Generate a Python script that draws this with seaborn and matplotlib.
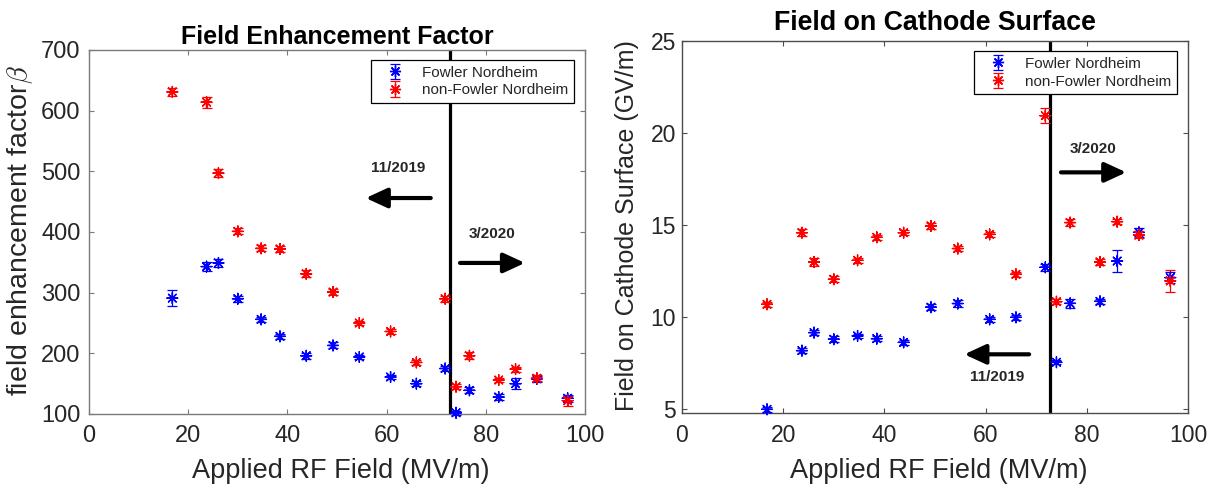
import matplotlib
matplotlib.use("Agg")
import matplotlib.pyplot as plt
from matplotlib.lines import Line2D
from matplotlib.legend_handler import HandlerTuple
import numpy as np
import pandas as pd
import seaborn as sns

# ---------------- data ----------------
applied_field = [16.8, 23.7, 26.1, 30.0, 34.7, 38.5, 43.8, 49.2, 54.5,
                 60.8, 66.0, 71.8, 74.0, 76.7, 82.6, 86.0, 90.3, 96.5]

beta_fn = [291, 343, 349, 290, 256, 228, 196, 213, 194,
           161, 150, 175, 102, 139, 128, 150, 158, 126]
beta_fn_err = [13, 7, 6, 5, 4, 4, 5, 5, 4, 4, 4, 4, 3, 5, 5, 9, 5, 6]
beta_nfn = [631, 614, 497, 401, 373, 372, 331, 301, 250,
            236, 185, 290, 145, 196, 156, 174, 159, 122]
beta_nfn_err = [7, 9, 7, 5, 5, 5, 6, 5, 4, 4, 4, 5, 4, 6, 4, 4, 5, 8]

cath_fn = [4.98, 8.17, 9.15, 8.79, 8.97, 8.82, 8.62, 10.53, 10.73,
           9.87, 9.98, 12.70, 7.54, 10.74, 10.85, 13.04, 14.60, 12.14]
cath_fn_err = [0.15, 0.15, 0.15, 0.15, 0.12, 0.12, 0.15, 0.15, 0.2,
               0.15, 0.15, 0.2, 0.12, 0.25, 0.15, 0.6, 0.25, 0.3]
cath_nfn = [10.69, 14.58, 12.99, 12.05, 13.08, 14.33, 14.58, 14.95, 13.72,
            14.49, 12.32, 20.94, 10.83, 15.13, 12.99, 15.18, 14.45, 11.96]
cath_nfn_err = [0.15, 0.2, 0.2, 0.15, 0.15, 0.15, 0.15, 0.15, 0.15,
                0.15, 0.15, 0.4, 0.15, 0.2, 0.15, 0.15, 0.15, 0.6]

series_names = ["Fowler Nordheim", "non-Fowler Nordheim"]
series_colors = {"Fowler Nordheim": "#0000ff", "non-Fowler Nordheim": "#ff0000"}

divider_x = 72.8
left_xticks = [0, 20, 40, 60, 80, 100]
left_yticks = [100, 200, 300, 400, 500, 600, 700]
right_yticks = [5, 10, 15, 20, 25]

# ---------------- style ----------------
sns.set_style("white")
plt.rcParams["font.family"] = ["Liberation Sans", "DejaVu Sans"]
plt.rcParams["mathtext.fontset"] = "cm"

ASTER = (8, 2, 0)


def make_df(y_fn, e_fn, y_nfn, e_nfn):
    return pd.DataFrame({
        "field": applied_field + applied_field,
        "value": y_fn + y_nfn,
        "err": e_fn + e_nfn,
        "series": [series_names[0]] * len(y_fn) + [series_names[1]] * len(y_nfn),
    })


def draw_panel(ax, df, spine_color, tick_fs):
    handles = []
    for name in series_names:
        sub = df[df["series"] == name]
        cont = ax.errorbar(sub["field"], sub["value"], yerr=sub["err"], fmt="none",
                           ecolor=series_colors[name], elinewidth=0.9,
                           capsize=3.6, capthick=0.9, clip_on=False, zorder=3)
        mk = Line2D([], [], marker=ASTER, ls="none", color=series_colors[name],
                    markersize=8, markeredgewidth=1.0)
        handles.append((cont, mk))
    sns.scatterplot(data=df, x="field", y="value", hue="series",
                    palette=series_colors, hue_order=series_names,
                    marker=ASTER, s=60, linewidth=1.0, ax=ax, legend=False,
                    clip_on=False, zorder=4)
    ax.axvline(divider_x, color="black", lw=2.3, zorder=2)
    ax.set_xlim(0, 100)
    ax.set_xticks(left_xticks)
    for sp in ax.spines.values():
        sp.set_visible(True)
        sp.set_color(spine_color)
        sp.set_linewidth(1.0)
    ax.tick_params(direction="in", length=3.5, width=0.8, colors=spine_color,
                   labelcolor="#262626", labelsize=tick_fs,
                   top=True, right=True, bottom=True, left=True)
    leg = ax.legend(handles, series_names, loc="upper right",
                    bbox_to_anchor=(0.978, 0.972), fontsize=11,
                    handler_map={tuple: HandlerTuple(ndivide=1, pad=0)},
                    frameon=True, fancybox=False, framealpha=1,
                    edgecolor="black", borderpad=0.35, labelspacing=0.25,
                    handlelength=2.4, handletextpad=0.6, borderaxespad=0)
    leg.get_frame().set_linewidth(0.9)
    return leg


def arrow(ax, x0, x1, y):
    ax.annotate("", xy=(x1, y), xytext=(x0, y),
                arrowprops=dict(arrowstyle="-|>,head_length=1.3,head_width=0.6",
                                mutation_scale=10, lw=3, color="black",
                                shrinkA=0, shrinkB=0))


fig = plt.figure(figsize=(12.22, 4.91), dpi=100)
ax1 = fig.add_axes([89 / 1222, 1 - 414 / 491, 496 / 1222, 364 / 491])
ax2 = fig.add_axes([682 / 1222, 1 - 413 / 491, 506 / 1222, 372 / 491])

# ---- left panel ----
df1 = make_df(beta_fn, beta_fn_err, beta_nfn, beta_nfn_err)
draw_panel(ax1, df1, "#7a7a7a", 17)
ax1.set_ylim(100, 700)
ax1.set_yticks(left_yticks)
ax1.tick_params(axis="x", pad=8)
ax1.tick_params(axis="y", pad=6)
ax1.set_title("Field Enhancement Factor", fontsize=18, fontweight="bold", pad=4.5, color="black")
ax1.set_xlabel("Applied RF Field (MV/m)", fontsize=19.5, color="#262626")
ax1.set_ylabel(r"field enhancement factor$\beta$", fontsize=20.5, color="#262626", va="center")
ax1.xaxis.set_label_coords(0.507, -0.121)
ax1.yaxis.set_label_coords(-0.138, 0.505)
ax1.text(62.3, 505, "11/2019", fontsize=11, fontweight="bold", ha="center", va="center")
arrow(ax1, 68.9, 55.8, 456)
ax1.text(81.3, 396, "3/2020", fontsize=11, fontweight="bold", ha="center", va="center")
arrow(ax1, 74.8, 87.9, 349)

# ---- right panel ----
df2 = make_df(cath_fn, cath_fn_err, cath_nfn, cath_nfn_err)
draw_panel(ax2, df2, "#4d4d4d", 16.5)
ax2.set_ylim(4.78, 25)
ax2.set_yticks(right_yticks)
ax2.tick_params(axis="x", pad=8)
ax2.tick_params(axis="y", pad=4.5)
ax2.set_title("Field on Cathode Surface", fontsize=19.3, fontweight="bold", pad=8, color="black")
ax2.set_xlabel("Applied RF Field (MV/m)", fontsize=19.5, color="#262626")
ax2.set_ylabel("Field on Cathode Surface (GV/m)", fontsize=18, color="#262626", va="center")
ax2.xaxis.set_label_coords(0.508, -0.121)
ax2.yaxis.set_label_coords(-0.109, 0.505)
ax2.text(81.3, 19.11, "3/2020", fontsize=11, fontweight="bold", ha="center", va="center")
arrow(ax2, 74.9, 87.8, 17.86)
ax2.text(62.2, 6.72, "11/2019", fontsize=11, fontweight="bold", ha="center", va="center")
arrow(ax2, 68.6, 55.8, 7.97)

fig.savefig("out.png", dpi=100)
